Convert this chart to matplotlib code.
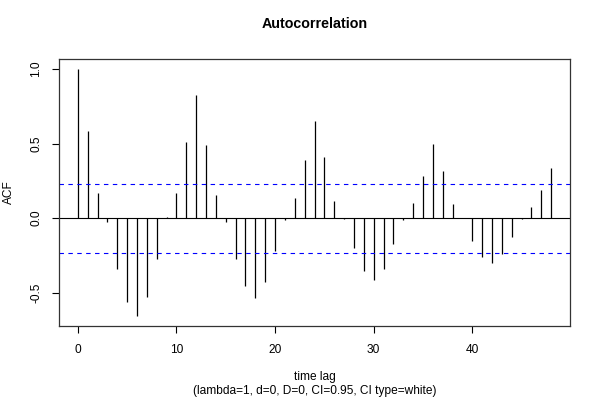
import matplotlib
matplotlib.use("Agg")
import matplotlib.pyplot as plt
import numpy as np

lags = list(range(0, 49))
acf = [1.000, 0.586, 0.169, -0.025, -0.337, -0.560, -0.656, -0.528, -0.272, 0.007,
       0.169, 0.511, 0.827, 0.493, 0.152, -0.025, -0.274, -0.455, -0.535, -0.428,
       -0.221, -0.013, 0.132, 0.392, 0.653, 0.410, 0.118, -0.004, -0.203, -0.355,
       -0.415, -0.337, -0.176, -0.013, 0.105, 0.285, 0.497, 0.317, 0.094, -0.002,
       -0.154, -0.261, -0.301, -0.239, -0.127, -0.007, 0.078, 0.192, 0.339]
ci = 0.232
xticks = [0, 10, 20, 30, 40]
yticks = [-0.5, 0.0, 0.5, 1.0]
yticklabels = ["-0.5", "0.0", "0.5", "1.0"]
title = "Autocorrelation"
ylabel = "ACF"
xlabel = "time lag"
subtitle = "(lambda=1, d=0, D=0, CI=0.95, CI type=white)"

plt.rcParams['font.family'] = ['Liberation Sans', 'DejaVu Sans']
W, H = 600, 400
fig = plt.figure(figsize=(6, 4), dpi=100)
ax = fig.add_axes([59 / W, 1 - 326 / H, (570 - 59) / W, (326 - 59) / H])

ax.vlines(lags, 0, acf, colors="black", linewidth=0.9)
ax.axhline(0, color="black", linewidth=0.8)
ax.axhline(ci, color="#0000ff", linewidth=0.8, linestyle=(0, (4, 4)))
ax.axhline(-ci, color="#0000ff", linewidth=0.8, linestyle=(0, (4, 4)))

ax.set_xlim(-1.92, 49.92)
ax.set_ylim(-0.722, 1.066)
ax.set_xticks(xticks)
ax.set_xticklabels([str(t) for t in xticks])
ax.set_yticks(yticks)
ax.set_yticklabels(yticklabels, rotation=90, va="center")
ax.tick_params(axis="both", length=5, width=0.8, labelsize=8.6, pad=8)
ax.tick_params(axis="y", pad=7)
for s in ax.spines.values():
    s.set_linewidth(0.9)
    s.set_color("#333333")

fig.text(314.5 / W, 1 - 24 / H, title, ha="center", va="center",
         fontsize=10.3, fontweight="bold")
fig.text(9 / W, 1 - 192.5 / H, ylabel, ha="center", va="center",
         fontsize=8.6, rotation=90)
fig.text(314.5 / W, 1 - 377 / H, xlabel, ha="center", va="center", fontsize=8.6)
fig.text(314.5 / W, 1 - 391 / H, subtitle, ha="center", va="center", fontsize=8.6)

fig.savefig("out.png", dpi=100)
